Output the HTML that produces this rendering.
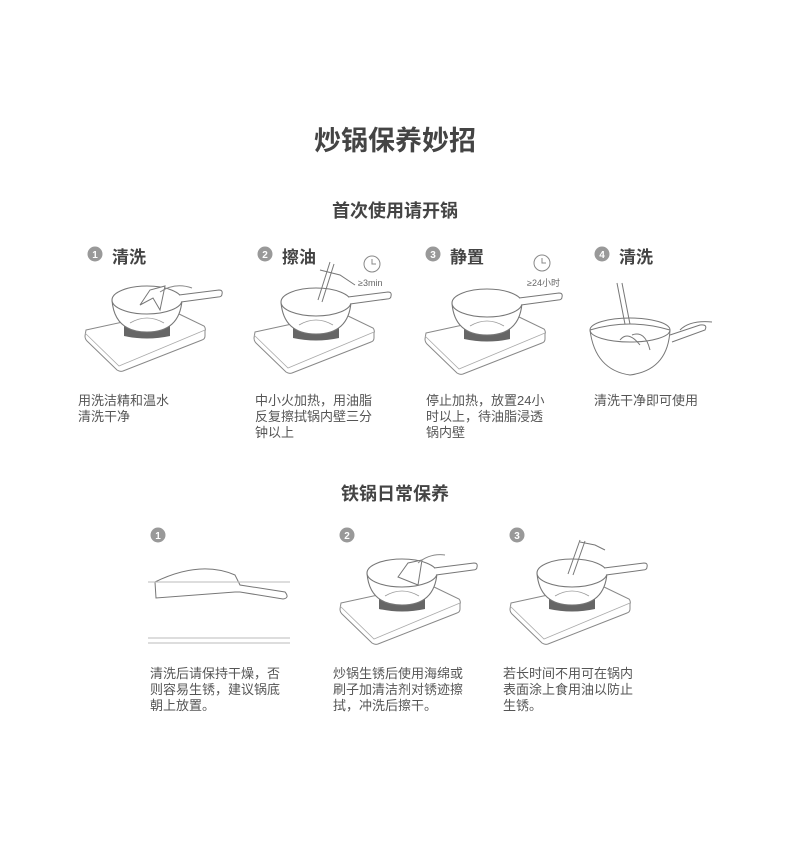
<!DOCTYPE html>
<html><head><meta charset="utf-8"><style>
body{margin:0;background:#fff;}
#w{position:relative;width:790px;height:865px;overflow:hidden;font-family:"Liberation Sans","Noto Sans CJK SC",sans-serif;color:#555;}
.t{position:absolute;white-space:nowrap;}
.h1{font-size:27px;font-weight:bold;left:0;width:790px;text-align:center;top:119px;color:#444;}
.h2{font-size:18px;font-weight:bold;left:0;width:790px;text-align:center;color:#444;}
.st{font-size:17px;font-weight:bold;color:#444;}
.d{font-size:13px;line-height:16px;color:#555;}
svg{position:absolute;left:0;top:0;}
</style></head><body><div id="w">
<svg width="790" height="865">
<defs>
<g id="pan">
<path d="M-61,30 L22,12 Q26,11 30,13 L57,26 Q59,28 58,31 L58,36 Q58,39 55,40 L-24,71 Q-27,72 -30,70 L-60,41 Q-62,39 -62,36 Z" fill="#fff" stroke="#888" stroke-width="1"/>
<path d="M-62,33 L-28,66 L58,30" fill="none" stroke="#aaa" stroke-width="0.8"/>
<path d="M-23,24 L23,24 L23,36 Q0,41 -23,36 Z" fill="#666"/>
<path d="M-35,0 C-33,27 -15,32 0,32 C15,32 33,27 35,0" fill="#fff" stroke="#777" stroke-width="1.1"/>
<ellipse cx="0" cy="0" rx="35" ry="14" fill="#fff" stroke="#777" stroke-width="1.1"/>
<path d="M-17,23 Q0,13 17,23" fill="none" stroke="#999" stroke-width="0.8"/>
<path d="M32,-5 L72,-10 Q76,-10 75,-6 Q75,-3 71,-3 L34,2" fill="#fff" stroke="#777" stroke-width="1"/>
</g>
<g id="clock"><circle r="8" fill="none" stroke="#888" stroke-width="1"/><path d="M0,-5 V0 H4" fill="none" stroke="#888"/></g>
</defs>
<g fill="#999"><circle cx="95" cy="254" r="7.5"/><circle cx="265" cy="254" r="7.5"/><circle cx="433" cy="254" r="7.5"/><circle cx="602" cy="254" r="7.5"/>
<circle cx="158" cy="535" r="7.5"/><circle cx="347" cy="535" r="7.5"/><circle cx="517" cy="535" r="7.5"/></g>
<g fill="#fff" font-size="10" font-weight="bold" text-anchor="middle" font-family="Liberation Sans,sans-serif">
<text x="95" y="258">1</text><text x="265" y="258">2</text><text x="433" y="258">3</text><text x="602" y="258">4</text>
<text x="158" y="539">1</text><text x="347" y="539">2</text><text x="517" y="539">3</text></g>
<use href="#pan" x="147" y="300"/>
<path d="M140,305 L150,290 L165,286 L160,310 L153,298 Z" fill="#fff" stroke="#777"/>
<path d="M160,292 Q175,282 192,288" fill="none" stroke="#888"/>
<use href="#pan" x="316" y="302"/>
<path d="M318,300 L330,262 M322,302 L334,264 M320,270 L340,275 L355,285" fill="none" stroke="#777"/>
<use href="#clock" x="372" y="264"/>
<text x="358" y="286" font-size="9" fill="#666">≥3min</text>
<use href="#pan" x="487" y="303"/>
<use href="#clock" x="542" y="263"/>
<text x="527" y="286" font-size="9" fill="#666">≥24小时</text>
<g fill="none" stroke="#777" stroke-width="1">
<path d="M617,283 L630,350 M622,283 L635,350"/>
<path d="M590,330 Q630,318 670,330 Q668,370 630,375 Q595,370 590,330 Z" fill="#fff"/>
<ellipse cx="630" cy="330" rx="40" ry="12"/>
<path d="M620,340 Q628,330 640,345 M632,335 Q645,330 650,350"/>
<path d="M670,335 L700,325 Q708,324 705,330 L672,342"/>
<path d="M680,330 Q690,320 712,322"/>
<path d="M155,582 Q200,560 235,575 L240,585 L285,592 Q290,598 283,599 L240,592 L235,592 L156,598 Z" fill="#fff"/>
</g>
<g stroke="#bbb" stroke-width="1"><line x1="148" y1="582" x2="290" y2="582"/><line x1="148" y1="638" x2="290" y2="638"/><line x1="148" y1="643" x2="290" y2="643"/></g>
<use href="#pan" x="402" y="573"/>
<path d="M398,577 L408,563 L422,560 L418,585 Z" fill="#fff" stroke="#777"/>
<path d="M418,563 Q430,553 445,555" fill="none" stroke="#888"/>
<use href="#pan" x="572" y="573"/>
<path d="M568,574 L580,540 M573,575 L585,541 M580,542 L595,545 L605,550" fill="none" stroke="#777"/>
</svg>
<div class="t h1">炒锅保养妙招</div>
<div class="t h2" style="top:197px">首次使用请开锅</div>
<div class="t st" style="left:112px;top:243px">清洗</div>
<div class="t st" style="left:282px;top:243px">擦油</div>
<div class="t st" style="left:450px;top:243px">静置</div>
<div class="t st" style="left:619px;top:243px">清洗</div>
<div class="t d" style="left:78px;top:393px">用洗洁精和温水<br>清洗干净</div>
<div class="t d" style="left:255px;top:393px">中小火加热，用油脂<br>反复擦拭锅内壁三分<br>钟以上</div>
<div class="t d" style="left:426px;top:393px">停止加热，放置24小<br>时以上，待油脂浸透<br>锅内壁</div>
<div class="t d" style="left:594px;top:393px">清洗干净即可使用</div>
<div class="t h2" style="top:480px">铁锅日常保养</div>
<div class="t d" style="left:150px;top:666px">清洗后请保持干燥，否<br>则容易生锈，建议锅底<br>朝上放置。</div>
<div class="t d" style="left:333px;top:666px">炒锅生锈后使用海绵或<br>刷子加清洁剂对锈迹擦<br>拭，冲洗后擦干。</div>
<div class="t d" style="left:503px;top:666px">若长时间不用可在锅内<br>表面涂上食用油以防止<br>生锈。</div>
</div></body></html>
